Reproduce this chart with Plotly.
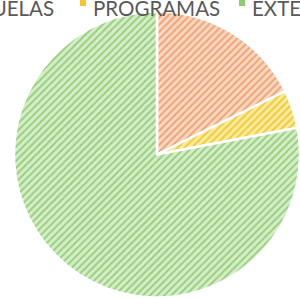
import plotly.graph_objects as go

labels = ["ESCUELAS", "PROGRAMAS", "EXTENSIÓN"]
values = [17.7, 4.3, 78.0]
bg_colors = ["#FBD8C2", "#FBEC9E", "#D6EDCA"]
fg_colors = ["#F2A274", "#F3C93A", "#96D07C"]
legend_colors = ["#F0A070", "#F5C431", "#8CCB6E"]

W, H = 300, 299
ML, MT = 14, 10
PW, PH = W - ML, H - MT

def px_x(px):
    return (px - ML) / PW

def px_y(py):
    return 1 - (py - MT) / PH

fig = go.Figure(go.Pie(
    labels=labels,
    values=values,
    sort=False,
    direction="clockwise",
    rotation=0,
    textinfo="none",
    hoverinfo="label+percent",
    marker=dict(
        colors=bg_colors,
        line=dict(color="white", width=2.5),
        pattern=dict(shape="/", bgcolor=bg_colors, fgcolor=fg_colors,
                     size=5, solidity=0.4),
    ),
    showlegend=False,
))

# legend drawn as text + square markers (partially cropped at top, as in reference)
text_left = [-47, 91, 250]
sq_left = [-79, 80, 239]
for lab, col, tx, sx in zip(labels, legend_colors, text_left, sq_left):
    fig.add_annotation(
        x=px_x(tx), y=px_y(22), xref="paper", yref="paper",
        xanchor="left", yanchor="bottom", text=lab, showarrow=False,
        font=dict(family="Lato", size=20.5, color="#595959"),
    )
    fig.add_shape(type="rect", xref="paper", yref="paper",
                  x0=px_x(sx), x1=px_x(sx + 6), y0=px_y(6), y1=px_y(-1),
                  fillcolor=col, line=dict(width=0))

fig.update_layout(
    width=W, height=H,
    margin=dict(l=ML, r=0, t=MT, b=0, autoexpand=False),
    paper_bgcolor="white", plot_bgcolor="white",
)
fig.write_html("out.html",
               config={"displayModeBar": False},
               post_script="document.body.style.margin='0';document.body.style.overflow='hidden';")
